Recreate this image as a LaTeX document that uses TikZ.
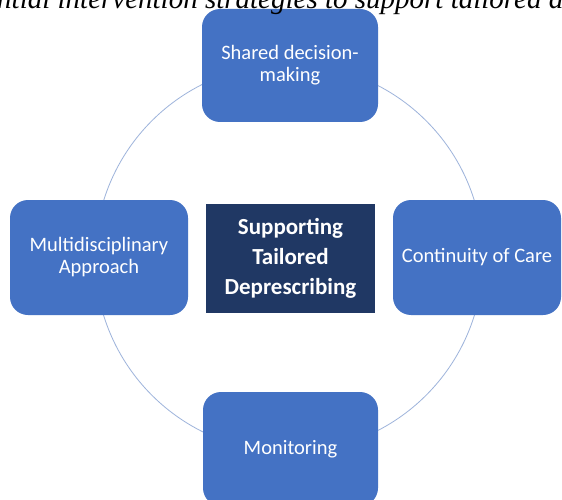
\documentclass[tikz,border=0pt]{standalone}
\usepackage{fontspec}
\setmainfont{Carlito}
\newfontfamily\titlefont{Liberation Serif}
\definecolor{boxblue}{HTML}{4472C4}
\definecolor{navy}{HTML}{203864}
\definecolor{ringblue}{HTML}{9DB3DB}
\begin{document}
\begin{tikzpicture}[x=1pt,y=-1pt,
  outerbox/.style={fill=boxblue, draw=none, rounded corners=18pt, text=white,
    font=\fontsize{20.5}{22}\selectfont, align=center, inner sep=0pt},
  centerbox/.style={fill=navy, draw=none, text=white,
    font=\bfseries\fontsize{23}{30}\selectfont, align=center, inner sep=0pt}]
\useasboundingbox (0,0) rectangle (562,500);
\clip (0,0) rectangle (562,500);
\fill[white] (0,0) rectangle (562,500);
\draw[ringblue, line width=0.8pt] (289,258) circle[radius=194];
\node[outerbox, minimum width=176pt, minimum height=113pt] (top) at (290,65.5) {Shared decision-\\making};
\node[outerbox, minimum width=178pt, minimum height=115pt] (left) at (99,257.5) {Multidisciplinary\\Approach};
\node[outerbox, minimum width=168pt, minimum height=115pt] (right) at (477,257.5) {Continuity of Care};
\node[outerbox, minimum width=175pt, minimum height=114pt] (bottom) at (290.5,449) {Monitoring};
\node[centerbox, minimum width=169pt, minimum height=109pt] (center) at (290.5,258.5) {Supporting\\Tailored\\Deprescribing};
\node[anchor=base west, inner sep=0pt, font=\titlefont\itshape\fontsize{29}{29}\selectfont] (title) at (-3,9) {ntial intervention strategies to support tailored d};
\end{tikzpicture}
\end{document}
